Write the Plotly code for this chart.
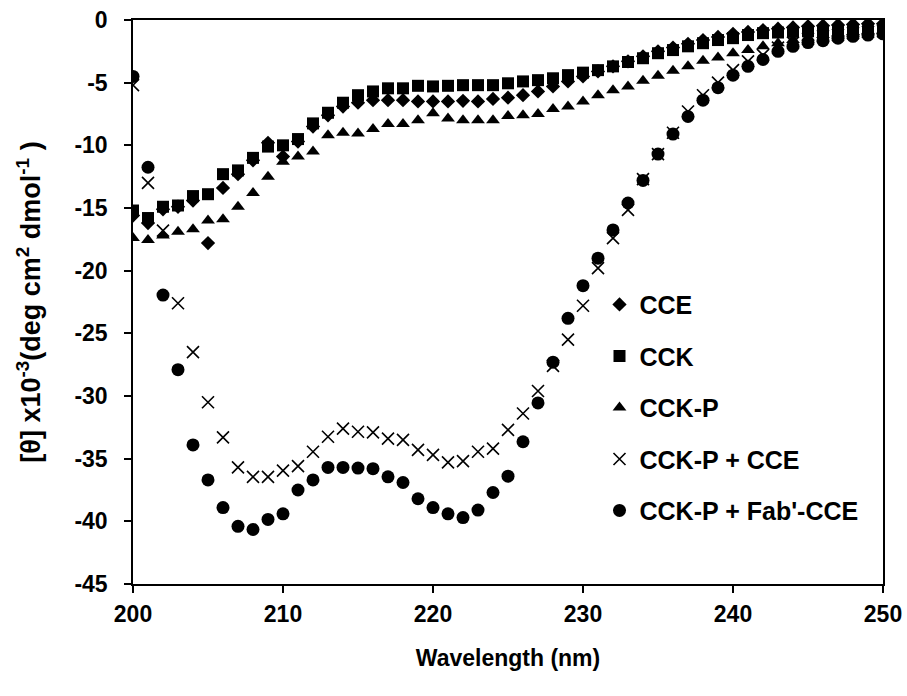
import plotly.graph_objects as go

# Wavelength grid (nm)
wavelength = list(range(200, 251))

# Mean residue ellipticity, [θ] x10^-3 (deg cm2 dmol-1)
cce = [-15.6, -16.2, -15.1, -14.9, -14.4, -17.8, -13.4, -12.3, -11.2, -9.8,
       -10.9, -9.7, -8.5, -7.6, -6.9, -6.6, -6.4, -6.4, -6.4, -6.5,
       -6.5, -6.5, -6.45, -6.5, -6.3, -6.2, -6.0, -5.7, -5.3, -4.9,
       -4.5, -4.1, -3.7, -3.3, -2.9, -2.5, -2.2, -1.9, -1.6, -1.35,
       -1.1, -0.95, -0.8, -0.7, -0.6, -0.5, -0.45, -0.4, -0.35, -0.3,
       -0.3]

cck = [-15.2, -15.8, -14.9, -14.8, -14.05, -13.9, -12.3, -12.0, -11.0, -10.1,
       -10.0, -9.5, -8.25, -7.4, -6.6, -6.0, -5.7, -5.45, -5.45, -5.25,
       -5.3, -5.25, -5.2, -5.2, -5.2, -5.05, -4.9, -4.8, -4.65, -4.4,
       -4.2, -4.0, -3.7, -3.35, -3.05, -2.65, -2.4, -2.1, -1.85, -1.6,
       -1.45, -1.2, -1.05, -1.0, -0.95, -0.9, -0.9, -0.9, -0.9, -0.9,
       -0.9]

cck_p = [-17.4, -17.55, -17.2, -16.9, -16.7, -16.0, -15.9, -14.9, -13.8, -12.5,
         -11.3, -10.9, -10.5, -9.2, -9.0, -9.05, -8.7, -8.3, -8.3, -8.0,
         -7.45, -7.85, -8.0, -8.0, -8.0, -7.65, -7.6, -7.5, -7.1, -6.9,
         -6.5, -6.0, -5.6, -5.3, -4.85, -4.45, -4.05, -3.7, -3.25, -3.0,
         -2.65, -2.4, -2.1, -1.85, -1.6, -1.4, -1.2, -1.05, -0.95, -0.9,
         -0.85]

cck_p_cce = [-5.2, -13.0, -16.8, -22.6, -26.5, -30.5, -33.3, -35.7, -36.45, -36.45,
             -35.95, -35.6, -34.45, -33.25, -32.6, -32.85, -32.9, -33.4, -33.5, -34.3,
             -34.7, -35.3, -35.2, -34.45, -34.2, -32.7, -31.4, -29.6, -27.6, -25.5,
             -22.8, -19.8, -17.4, -15.15, -12.7, -10.7, -9.0, -7.3, -6.0, -5.0,
             -4.0, -3.3, -2.8, -2.2, -1.8, -1.5, -1.3, -1.2, -1.05, -0.95,
             -0.9]

cck_p_fab_cce = [-4.5, -11.75, -21.95, -27.9, -33.9, -36.7, -38.9, -40.4, -40.65, -39.85,
                 -39.4, -37.5, -36.7, -35.7, -35.7, -35.75, -35.8, -36.45, -36.9, -38.2,
                 -38.9, -39.4, -39.7, -39.1, -37.7, -36.4, -33.65, -30.55, -27.3, -23.8,
                 -21.2, -19.0, -16.75, -14.6, -12.8, -10.7, -9.1, -7.7, -6.4, -5.4,
                 -4.4, -3.7, -3.15, -2.5, -2.1, -1.8, -1.65, -1.45, -1.3, -1.2,
                 -1.1]

# Axis ticks (labels use a plain hyphen for the minus sign)
x_ticks = [200, 210, 220, 230, 240, 250]
x_tick_labels = ["200", "210", "220", "230", "240", "250"]
y_ticks = [0, -5, -10, -15, -20, -25, -30, -35, -40, -45]
y_tick_labels = ["0", "-5", "-10", "-15", "-20", "-25", "-30", "-35", "-40", "-45"]

series = [
    ("CCE", cce, dict(symbol="diamond", size=11, color="black")),
    ("CCK", cck, dict(symbol="square", size=12, color="black")),
    ("CCK-P", cck_p, dict(symbol="triangle-up", size=12, color="black")),
    ("CCK-P + CCE", cck_p_cce,
     dict(symbol="x-thin-open", size=12, color="black",
          line=dict(color="black", width=1.6))),
    ("CCK-P + Fab'-CCE", cck_p_fab_cce, dict(symbol="circle", size=13, color="black")),
]

FONT = "Liberation Sans, Arial, Helvetica, sans-serif"

fig = go.Figure()
for i, (name, values, marker) in enumerate(series):
    fig.add_trace(go.Scatter(
        x=wavelength, y=values, mode="markers", name=name,
        marker=marker, legendgroup=str(i),
    ))

axis_common = dict(
    showline=True, linecolor="black", linewidth=1.5, mirror=True,
    ticks="outside", ticklen=7, tickwidth=1.5, tickcolor="black",
    showgrid=False, zeroline=False, automargin=False,
    ticklabeloverflow="allow",
    tickfont=dict(family=FONT, size=23, color="black", weight="bold"),
)

fig.update_layout(
    width=907, height=696,
    margin=dict(l=133, r=24, t=20, b=112),
    paper_bgcolor="white", plot_bgcolor="white",
    showlegend=True,
    legend=dict(
        x=0.622, y=0.536, xanchor="left", yanchor="top",
        bgcolor="rgba(0,0,0,0)", borderwidth=0,
        font=dict(family=FONT, size=25, color="black", weight="bold"),
        tracegroupgap=16, itemwidth=30,
    ),
    xaxis=dict(
        range=[200, 250], tickvals=x_ticks, ticktext=x_tick_labels,
        ticklabelstandoff=2,
        title=dict(text="Wavelength (nm)", standoff=24,
                   font=dict(family=FONT, size=23, color="black", weight="bold")),
        **axis_common,
    ),
    yaxis=dict(
        range=[-45, 0], tickvals=y_ticks, ticktext=y_tick_labels,
        ticklabelstandoff=12,
        title=dict(text="[θ] x10<sup>-3</sup>(deg cm<sup>2</sup> dmol<sup>-1</sup> )",
                   standoff=26,
                   font=dict(family=FONT, size=27, color="black", weight="bold")),
        **axis_common,
    ),
)

fig.write_html("out.html")
